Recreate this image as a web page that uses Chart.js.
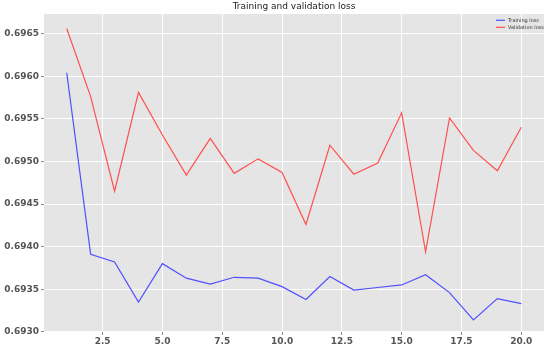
<!DOCTYPE html>
<html>
<head>
<meta charset="utf-8">
<script src="https://cdn.jsdelivr.net/npm/chart.js@4/dist/chart.umd.min.js"></script>
<style>
html,body{margin:0;padding:0;background:#fff;}
#wrap{width:550px;height:351px;}
</style>
</head>
<body>
<div id="wrap"><canvas id="c" width="550" height="351"></canvas></div>
<script>
const epochs = [1,2,3,4,5,6,7,8,9,10,11,12,13,14,15,16,17,18,19,20];
const trainingLoss = [0.69604,0.69391,0.69382,0.69335,0.69380,0.69363,0.69356,0.69364,0.69363,0.69353,0.69338,0.69365,0.69349,0.69352,0.69355,0.69367,0.69346,0.69314,0.69339,0.69333];
const validationLoss = [0.69656,0.69576,0.69465,0.69581,0.69531,0.69484,0.69527,0.69486,0.69503,0.69487,0.69426,0.69519,0.69485,0.69498,0.69557,0.69394,0.69551,0.69513,0.69489,0.69540];
const xTicks = [2.5,5.0,7.5,10.0,12.5,15.0,17.5,20.0];
const yTicks = [0.6930,0.6935,0.6940,0.6945,0.6950,0.6955,0.6960,0.6965];
const titleText = 'Training and validation loss';

const bgPlugin = {
  id: 'bg',
  beforeDraw(chart) {
    const {ctx, chartArea: a} = chart;
    ctx.save();
    ctx.fillStyle = '#E5E5E5';
    ctx.fillRect(a.left, a.top, a.right - a.left, a.bottom - a.top);
    ctx.restore();
  },
  afterDraw(chart) {
    const {ctx, chartArea: a} = chart;
    ctx.save();
    // title
    ctx.fillStyle = '#222';
    ctx.font = '9px "DejaVu Sans"';
    ctx.textAlign = 'center';
    ctx.textBaseline = 'middle';
    ctx.fillText(titleText, (a.left + a.right) / 2, 7);
    // legend
    ctx.font = '5px "DejaVu Sans"';
    ctx.textAlign = 'left';
    chart.data.datasets.forEach((ds, i) => {
      const y = 20.3 + i * 7;
      ctx.strokeStyle = ds.borderColor;
      ctx.lineWidth = 1.2;
      ctx.beginPath();
      ctx.moveTo(496, y);
      ctx.lineTo(505, y);
      ctx.stroke();
      ctx.fillStyle = '#333';
      ctx.fillText(ds.label, 508, y);
    });
    ctx.restore();
  }
};

new Chart(document.getElementById('c'), {
  type: 'line',
  data: {
    datasets: [
      {label: 'Training loss', data: epochs.map((e, i) => ({x: e, y: trainingLoss[i]})), borderColor: '#5050ff', borderWidth: 1.2, pointRadius: 0, tension: 0, fill: false},
      {label: 'Validation loss', data: epochs.map((e, i) => ({x: e, y: validationLoss[i]})), borderColor: '#ff5050', borderWidth: 1.2, pointRadius: 0, tension: 0, fill: false}
    ]
  },
  options: {
    responsive: false,
    animation: false,
    layout: {padding: {top: 14, right: 6, left: 0, bottom: 0}},
    plugins: {legend: {display: false}, title: {display: false}, tooltip: {enabled: false}},
    scales: {
      x: {
        type: 'linear',
        min: 0.05, max: 20.95,
        afterBuildTicks(axis) { axis.ticks = xTicks.map(v => ({value: v})); },
        afterFit(axis) { axis.height = 19; },
        border: {display: false},
        grid: {color: '#ffffff', lineWidth: 1, tickLength: 3, tickColor: '#888'},
        ticks: {
          color: '#555555', font: {family: 'DejaVu Sans', size: 9, weight: 'bold'}, padding: 1, maxRotation: 0,
          callback: v => v.toFixed(1)
        }
      },
      y: {
        type: 'linear',
        min: 0.692998, max: 0.69673,
        afterBuildTicks(axis) { axis.ticks = yTicks.map(v => ({value: v})); },
        afterFit(axis) { axis.width = 44; },
        border: {display: false},
        grid: {color: '#ffffff', lineWidth: 1, tickLength: 3, tickColor: '#888'},
        ticks: {
          color: '#555555', font: {family: 'DejaVu Sans', size: 9, weight: 'bold'}, padding: 2,
          callback: v => v.toFixed(4)
        }
      }
    }
  },
  plugins: [bgPlugin]
});
</script>
</body>
</html>
